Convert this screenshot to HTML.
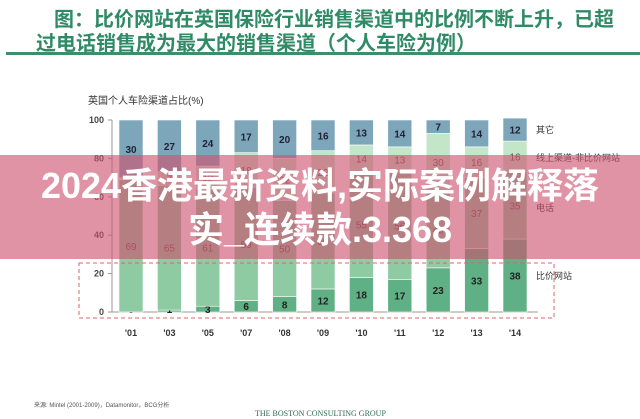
<!DOCTYPE html>
<html><head><meta charset="utf-8"><style>
body{margin:0;width:640px;height:419px;background:#fff;overflow:hidden;position:relative;font-family:"Liberation Sans","Noto Sans CJK SC",sans-serif}
.t{position:absolute;left:36px;color:#2f8a66;font-weight:bold;font-size:20px;font-family:"Noto Sans CJK SC",sans-serif;line-height:23px}
</style></head><body>
<div class="t" style="top:6px;left:54px">图：比价网站在英国保险行业销售渠道中的比例不断上升，已超</div>
<div class="t" style="top:30px">过电话销售成为最大的销售渠道（个人车险为例）</div>
<div style="position:absolute;left:6px;top:52px;width:638px;height:3px;background:#3d8f6c"></div>
<svg id="c" width="640" height="419" style="position:absolute;left:0;top:0"></svg>
<div style="position:absolute;left:-20px;top:155px;width:680px;height:104px;background:rgba(205,80,110,0.62);color:#fff;font-weight:bold;font-size:36px;text-align:center;line-height:44px;padding-top:9px;box-sizing:border-box;white-space:nowrap;font-family:'Liberation Sans','Noto Sans CJK SC',sans-serif">2024香港最新资料,实际案例解释落<br>实_连续款.3.368</div>
<script>
const years=["'01","'03","'05","'07","'08","'09","'10","'11","'12","'13","'14"];
const priceSites=[0,1,3,6,8,12,18,17,23,33,38];
const phone=[69,65,61,59,50,50,55,56,40,37,35];
const online=[1,7,12,18,22,22,14,13,30,16,16];
const other=[30,27,24,17,20,16,13,14,7,14,12];
const yTicks=[0,20,40,60,80,100];
const seriesNames=["比价网站","电话","线上渠道-非比价网站","其它"];
const NS="http://www.w3.org/2000/svg",svg=document.getElementById('c');
const y0=312,y1=120,x0=119,step=38.4,bw=24;
const Y=v=>y0-(y0-y1)*v/100, X=i=>x0+i*step;
function mk(t,a,txt){const e=document.createElementNS(NS,t);for(const k in a)e.setAttribute(k,a[k]);if(txt!=null)e.textContent=txt;svg.appendChild(e);return e;}
let e=mk('text',{x:88,y:104,'font-size':10,fill:'#333'},'英国个人车险渠道占比(%)');

e=mk('line',{x1:112,y1:y1,x2:112,y2:y0,stroke:'#999'});

e=mk('line',{x1:108,y1:y0,x2:538,y2:y0,stroke:'#999'});

yTicks.forEach(v=>{const t=mk('text',{x:104,y:Y(v)+3,'font-size':9,'text-anchor':'end','font-weight':'bold',fill:'#444'},v);

mk('line',{x1:108,y1:Y(v),x2:112,y2:Y(v),stroke:'#999'});});
const series=[priceSites,phone,online,other],cols=['#5fb084','#8fcba2','#c3e5c8','#7ea6bb'],tcol=['#222','#7a4a4a','#7a4a4a','#223'];
const nm=['bar-price-sites','bar-phone','bar-online','bar-other'];
years.forEach((yr,i)=>{let acc=0;
series.forEach((s,k)=>{const v=s[i];const r=mk('rect',{x:X(i),y:Y(acc+v),width:bw,height:Y(acc)-Y(acc+v),fill:cols[k],stroke:'#fff','stroke-width':0.6});

let ly=Y(acc+v/2)+4; if(k==0&&v<6) ly=Y(acc)+1;
const t=mk('text',{x:X(i)+bw/2,y:ly,'font-size':10,'font-weight':k==1||k==2?'normal':'bold','text-anchor':'middle',fill:tcol[k]},v);

acc+=v;});
const t=mk('text',{x:X(i)+bw/2,y:336,'font-size':9,'font-weight':'bold','text-anchor':'middle',fill:'#333'},yr);
});
[3,2,1,0].forEach((k,j)=>{const t=mk('text',{x:536,y:[133,161,211,279][j],'font-size':9,fill:'#333'},seriesNames[k]);
});
e=mk('rect',{x:79,y:263,width:475,height:55,fill:'none',stroke:'#d66','stroke-dasharray':'4,3'});

e=mk('text',{x:34,y:407,'font-size':6,fill:'#555'},'来源: Mintel (2001-2009)，Datamonitor，BCG分析');

e=mk('text',{x:255,y:416,'font-size':8,fill:'#2f6b50','font-family':'Liberation Serif,serif'},'THE BOSTON CONSULTING GROUP');

</script>
</body></html>
